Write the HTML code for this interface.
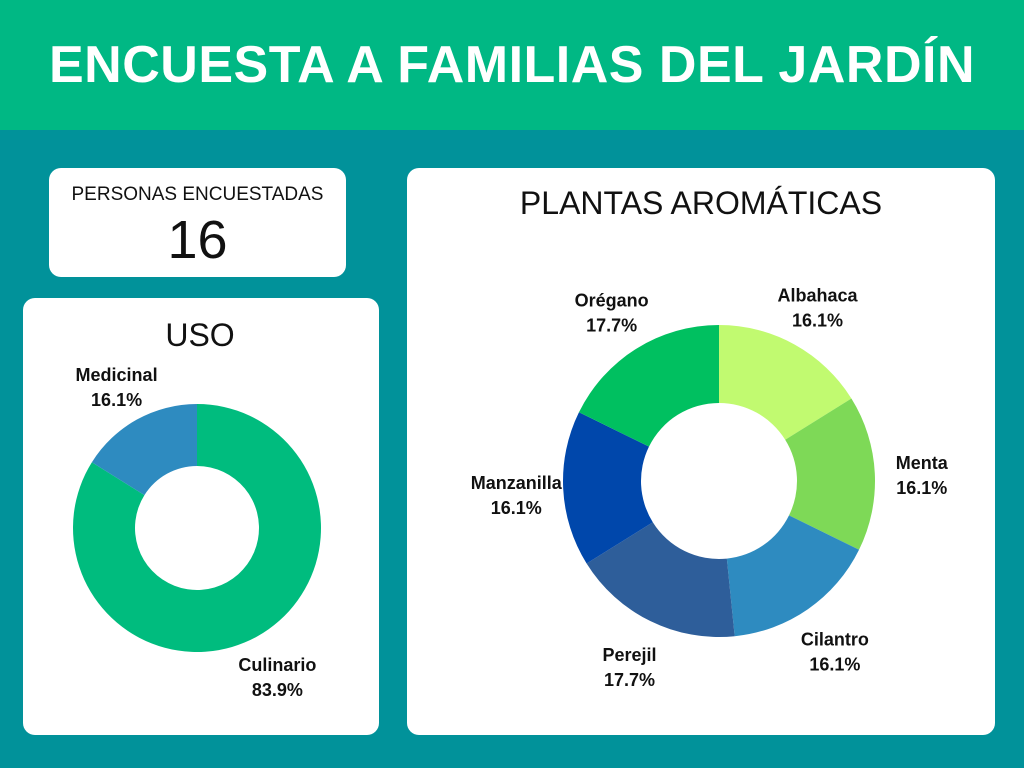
<!DOCTYPE html>
<html><head><meta charset="utf-8">
<style>
*{margin:0;padding:0;box-sizing:border-box}
body{width:1024px;height:768px;background:#01929A;font-family:"Liberation Sans",sans-serif;position:relative;overflow:hidden}
#header{position:absolute;left:0;top:0;width:1024px;height:130px;background:#00B884;color:#fff;font-weight:bold;font-size:52px;text-align:center;line-height:130px;letter-spacing:0.5px}
.card{position:absolute;background:#fff;border-radius:12px}
#kpi{left:49px;top:168px;width:297px;height:109px;text-align:center}
#kpi .t{font-size:19px;margin-top:16px;color:#111}
#kpi .v{font-size:54px;color:#111;line-height:64px;margin-top:2px}
#uso{left:23px;top:298px;width:356px;height:437px}
#plantas{left:407px;top:168px;width:588px;height:567px}
svg{position:absolute;left:0;top:0}
</style></head><body>
<div id="header">ENCUESTA A FAMILIAS DEL JARDÍN</div>
<div class="card" id="kpi">
<div class="t">PERSONAS ENCUESTADAS</div>
<div class="v">16</div></div>
<div class="card" id="uso"></div>
<div class="card" id="plantas"></div>
<svg id="chart" width="1024" height="768"></svg>
<script>
const usoCategories=["Culinario","Medicinal"];
const usoValues=[83.9,16.1];
const usoColors=["#00BC7E","#2E8BC0"];
const plantCategories=["Albahaca","Menta","Cilantro","Perejil","Manzanilla","Orégano"];
const plantValues=[16.1,16.1,16.1,17.7,16.1,17.7];
const plantColors=["#C1FA70","#7ED957","#2E8BC0","#2E5E9A","#0047AB","#00C060"];
const NS="http://www.w3.org/2000/svg";
const svg=document.getElementById('chart');
function el(t,a){const e=document.createElementNS(NS,t);for(const k in a)e.setAttribute(k,a[k]);svg.appendChild(e);return e;}
function pt(cx,cy,r,a){return [cx+r*Math.sin(a),cy-r*Math.cos(a)];}
function donut(cx,cy,ro,ri,cats,vals,cols,lr,prefix){
  const tot=vals.reduce((a,b)=>a+b,0);let a0=0;
  cats.forEach((c,i)=>{
    const a1=a0+vals[i]/tot*2*Math.PI;const big=(a1-a0)>Math.PI?1:0;
    const p1=pt(cx,cy,ro,a0),p2=pt(cx,cy,ro,a1),p3=pt(cx,cy,ri,a1),p4=pt(cx,cy,ri,a0);
    const d=`M${p1}A${ro},${ro} 0 ${big} 1 ${p2}L${p3}A${ri},${ri} 0 ${big} 0 ${p4}Z`;
    const p=el('path',{d:d,fill:cols[i]});
    
    
    const m=(a0+a1)/2;
    const L=pt(cx,cy,lr,m);
    const t=el('text',{x:L[0],y:L[1]-2,'text-anchor':'middle','font-size':'18','font-weight':'bold',fill:'#111'});
    t.textContent=c;
    
    
    const t2=el('text',{x:L[0],y:L[1]+23,'text-anchor':'middle','font-size':'18','font-weight':'bold',fill:'#111'});
    t2.textContent=vals[i].toFixed(1)+'%';
    
    
    a0=a1;
  });
}
function title(x,y,s,n){const t=el('text',{x:x,y:y,'text-anchor':'middle','font-size':'32',fill:'#111'});t.textContent=s;

}
title(200,346,"USO","uso-title");
title(701,214,"PLANTAS AROMÁTICAS","plantas-title");
donut(197,528,124,62,usoCategories,usoValues,usoColors,166,'uso');
donut(719,481,156,78,plantCategories,plantValues,plantColors,203,'plantas');
</script>
</body></html>
